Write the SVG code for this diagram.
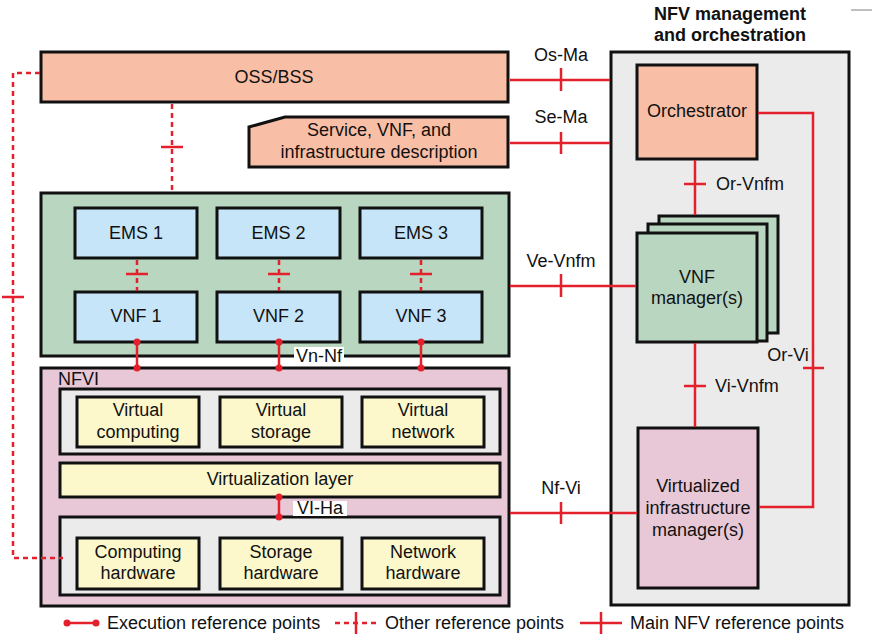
<svg xmlns="http://www.w3.org/2000/svg" width="872" height="643" viewBox="0 0 872 643">
<style>
text{font-family:"Liberation Sans",Arial,Helvetica,sans-serif;font-size:18px;fill:#111}
.c{text-anchor:middle}
.b{font-weight:bold}
.box{stroke:#111;stroke-width:3}
.salmon{fill:#f9bfa6}
.green{fill:#b9d6c1}
.blue{fill:#c6e5f8}
.pink{fill:#e8c8d6}
.gray{fill:#ebebeb}
.yellow{fill:#fcf8cc}
.main{stroke:#e3202b;stroke-width:2.5;fill:none}
.other{stroke:#e3202b;stroke-width:2.5;fill:none;stroke-dasharray:5 4}
.dot{fill:#e3202b}
.lbg{fill:#fff}
</style>
<rect width="872" height="643" fill="#fff"/>
<line x1="851" y1="10" x2="872" y2="10" stroke="#aaa" stroke-width="1.5"/>

<g id="mano">
<rect class="box gray" x="611" y="52" width="238" height="553"/>
<text class="c b" x="730" y="20">NFV management</text>
<text class="c b" x="730" y="41">and orchestration</text>
</g>

<g id="oss-bss">
<rect class="box salmon" x="41" y="52" width="467" height="50"/>
<text class="c" x="274" y="83">OSS/BSS</text>
</g>

<g id="descriptions">
<polygon class="box salmon" points="249,127 285,117 508,117 508,167 249,167"/>
<text class="c" x="379" y="136">Service, VNF, and</text>
<text class="c" x="379" y="158">infrastructure description</text>
</g>

<g id="vnf-domain">
<rect class="box green" x="41" y="193" width="468" height="163"/>
</g>
<g id="ems1"><rect class="box blue" x="75" y="208" width="122" height="50"/><text class="c" x="136" y="239">EMS 1</text></g>
<g id="ems2"><rect class="box blue" x="217" y="208" width="123" height="50"/><text class="c" x="278.5" y="239">EMS 2</text></g>
<g id="ems3"><rect class="box blue" x="360" y="208" width="122" height="50"/><text class="c" x="421" y="239">EMS 3</text></g>
<g id="vnf1"><rect class="box blue" x="75" y="292" width="122" height="50"/><text class="c" x="136" y="322">VNF 1</text></g>
<g id="vnf2"><rect class="box blue" x="217" y="292" width="123" height="50"/><text class="c" x="278.5" y="322">VNF 2</text></g>
<g id="vnf3"><rect class="box blue" x="360" y="292" width="122" height="50"/><text class="c" x="421" y="322">VNF 3</text></g>

<g id="nfvi">
<rect class="box pink" x="41" y="368" width="468" height="238"/>
<text x="58" y="385">NFVI</text>
<rect class="box gray" x="60" y="389" width="440" height="65"/>
<rect class="box yellow" x="60" y="463" width="440" height="34"/>
<text class="c" x="280" y="485">Virtualization layer</text>
<rect class="box gray" x="60" y="517" width="440" height="78"/>
</g>
<g id="virtual-computing"><rect class="box yellow" x="77" y="397" width="122" height="50"/><text class="c" x="138" y="416">Virtual</text><text class="c" x="138" y="438">computing</text></g>
<g id="virtual-storage"><rect class="box yellow" x="220" y="397" width="122" height="50"/><text class="c" x="281" y="416">Virtual</text><text class="c" x="281" y="438">storage</text></g>
<g id="virtual-network"><rect class="box yellow" x="362" y="397" width="122" height="50"/><text class="c" x="423" y="416">Virtual</text><text class="c" x="423" y="438">network</text></g>
<g id="computing-hw"><rect class="box yellow" x="77" y="538" width="122" height="51"/><text class="c" x="138" y="558">Computing</text><text class="c" x="138" y="579">hardware</text></g>
<g id="storage-hw"><rect class="box yellow" x="220" y="538" width="122" height="51"/><text class="c" x="281" y="558">Storage</text><text class="c" x="281" y="579">hardware</text></g>
<g id="network-hw"><rect class="box yellow" x="362" y="538" width="122" height="51"/><text class="c" x="423" y="558">Network</text><text class="c" x="423" y="579">hardware</text></g>

<g id="orchestrator">
<rect class="box salmon" x="637" y="65" width="120" height="94"/>
<text class="c" x="697" y="117">Orchestrator</text>
</g>

<g id="vnf-manager">
<rect class="box green" x="659" y="216" width="119" height="117"/>
<rect class="box green" x="648" y="224" width="119" height="117"/>
<rect class="box green" x="637" y="233" width="120" height="109"/>
<text class="c" x="697" y="283">VNF</text>
<text class="c" x="697" y="304">manager(s)</text>
</g>

<g id="vim">
<rect class="box pink" x="638" y="428" width="120" height="160"/>
<text class="c" x="698" y="492">Virtualized</text>
<text class="c" x="698" y="514">infrastructure</text>
<text class="c" x="698" y="536">manager(s)</text>
</g>

<g id="connectors">
<!-- main reference points -->
<line class="main" x1="510" y1="80" x2="610" y2="80"/>
<line class="main" x1="561" y1="68" x2="561" y2="91"/>
<text class="c" x="561" y="61">Os-Ma</text>
<line class="main" x1="510" y1="143" x2="610" y2="143"/>
<line class="main" x1="561" y1="132" x2="561" y2="154"/>
<text class="c" x="561" y="123">Se-Ma</text>
<line class="main" x1="510" y1="286" x2="636" y2="286"/>
<line class="main" x1="561" y1="274" x2="561" y2="297"/>
<text class="c" x="561" y="267">Ve-Vnfm</text>
<line class="main" x1="510" y1="513" x2="637" y2="513"/>
<line class="main" x1="561" y1="502" x2="561" y2="524"/>
<text class="c" x="561" y="494">Nf-Vi</text>
<line class="main" x1="695" y1="160" x2="695" y2="215"/>
<line class="main" x1="684" y1="184" x2="706" y2="184"/>
<text x="716" y="190">Or-Vnfm</text>
<line class="main" x1="695" y1="343" x2="695" y2="427"/>
<line class="main" x1="684" y1="386" x2="706" y2="386"/>
<text x="715" y="392">Vi-Vnfm</text>
<polyline class="main" points="758,113 813,113 813,507 759,507"/>
<line class="main" x1="803" y1="368" x2="824" y2="368"/>
<text class="c" x="788" y="361">Or-Vi</text>
<!-- execution reference points -->
<line class="main" x1="137" y1="342" x2="137" y2="368"/>
<line class="main" x1="279" y1="342" x2="279" y2="368"/>
<line class="main" x1="421" y1="342" x2="421" y2="368"/>
<circle class="dot" cx="137" cy="342" r="3.5"/><circle class="dot" cx="137" cy="368" r="3.5"/>
<circle class="dot" cx="279" cy="342" r="3.5"/><circle class="dot" cx="279" cy="368" r="3.5"/>
<circle class="dot" cx="421" cy="342" r="3.5"/><circle class="dot" cx="421" cy="368" r="3.5"/>
<rect class="lbg" x="294" y="347" width="50" height="19"/>
<text class="c" x="319" y="362">Vn-Nf</text>
<line class="main" x1="279" y1="497" x2="279" y2="517"/>
<circle class="dot" cx="279" cy="497" r="3.5"/><circle class="dot" cx="279" cy="517" r="3.5"/>
<rect class="lbg" x="293" y="501" width="54" height="15"/>
<text class="c" x="320" y="514">VI-Ha</text>
<!-- other reference points -->
<line class="other" x1="172" y1="104" x2="172" y2="191"/>
<line class="main" x1="161" y1="147" x2="183" y2="147"/>
<line class="other" x1="137" y1="260" x2="137" y2="291"/>
<line class="main" x1="126" y1="274" x2="148" y2="274"/>
<line class="other" x1="279" y1="260" x2="279" y2="291"/>
<line class="main" x1="268" y1="274" x2="290" y2="274"/>
<line class="other" x1="421" y1="260" x2="421" y2="291"/>
<line class="main" x1="410" y1="274" x2="432" y2="274"/>
<polyline class="other" points="40,73 13,73 13,558 63,558"/>
<line class="main" x1="2" y1="297" x2="24" y2="297"/>
</g>

<g id="legend">
<line class="main" x1="67" y1="623" x2="96" y2="623"/>
<circle class="dot" cx="67" cy="623" r="3.5"/><circle class="dot" cx="96" cy="623" r="3.5"/>
<text x="107" y="629">Execution reference points</text>
<line class="other" x1="335" y1="623" x2="377" y2="623"/>
<line class="main" x1="356" y1="612" x2="356" y2="634"/>
<text x="385" y="629">Other reference points</text>
<line class="main" x1="580" y1="623" x2="622" y2="623"/>
<line class="main" x1="601" y1="612" x2="601" y2="634"/>
<text x="630" y="629">Main NFV reference points</text>
</g>
</svg>
